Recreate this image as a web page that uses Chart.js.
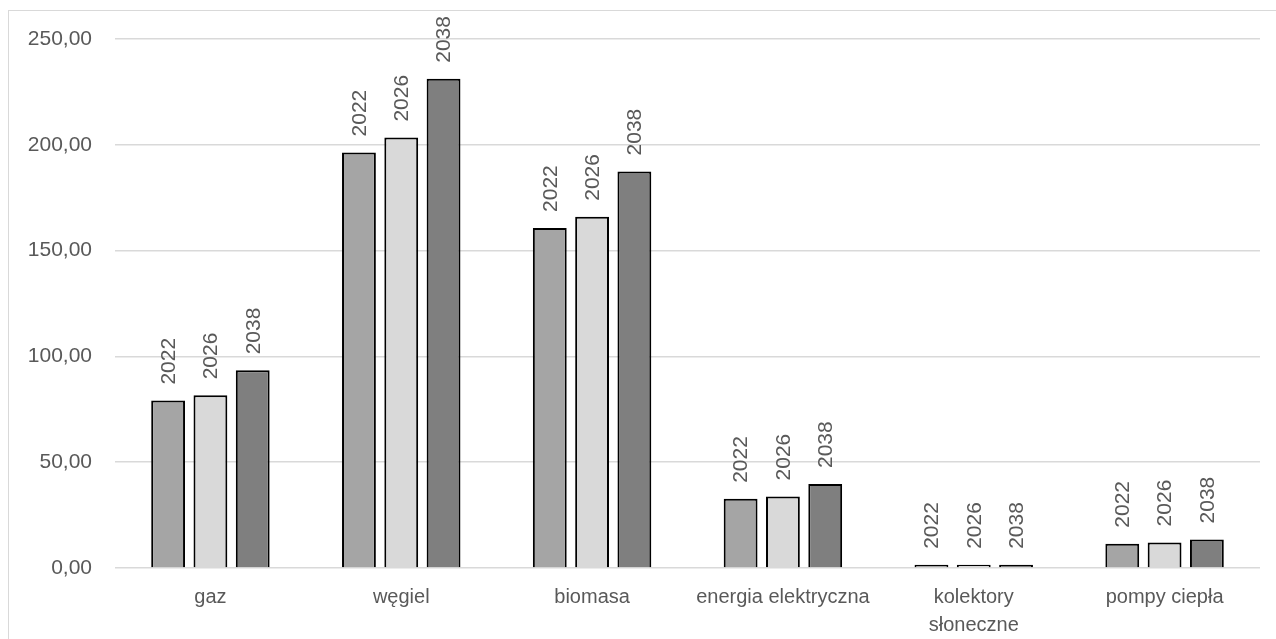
<!DOCTYPE html>
<html>
<head>
<meta charset="utf-8">
<script src="https://cdn.jsdelivr.net/npm/chart.js@4"></script>
<style>
    body { margin: 0; background: #fff; }
    .chart-box { width: 1276px; height: 639px; position: relative; }
</style>
</head>
<body>
<div class="chart-box"><canvas id="myChart"></canvas></div>
<script>
const categories = ['gaz', 'węgiel', 'biomasa', 'energia elektryczna', ['kolektory', 'słoneczne'], 'pompy ciepła'];
const years = ['2022', '2026', '2038'];
const values2022 = [79.1, 196.4, 160.7, 32.7, 1.5, 11.5];
const values2026 = [81.6, 203.4, 166.0, 33.8, 1.5, 12.1];
const values2038 = [93.4, 231.2, 187.4, 39.7, 1.5, 13.5];
const yTicks = [0, 50, 100, 150, 200, 250];

const textColor = '#595959';
const fontName = "'Liberation Sans', Arial, sans-serif";

// frame round the chart (right and bottom edges run off the page)
const framePlugin = {
    id: 'frame',
    beforeDraw(chart) {
        let c = chart.ctx;
        c.save();
        c.strokeStyle = '#d9d9d9';
        c.lineWidth = 1;
        c.strokeRect(8.5, 10.5, 1400, 800);
        c.restore();
    }
};

// year written upright above each bar
const yearLabels = {
    id: 'yearLabels',
    afterDatasetsDraw(chart) {
        let c = chart.ctx;
        c.save();
        c.font = `21px ${fontName}`;
        c.fillStyle = textColor;
        c.textAlign = 'left';
        c.textBaseline = 'middle';
        chart.data.datasets.forEach((ds, i) => {
            chart.getDatasetMeta(i).data.forEach(bar => {
                c.save();
                c.translate(bar.x + 1, bar.y - 16);
                c.rotate(-Math.PI / 2);
                c.fillText(ds.label, 0, 0);
                c.restore();
            });
        });
        c.restore();
    }
};

function makeSet(label, data, color) {
    return {
        label: label,
        data: data,
        backgroundColor: color,
        borderColor: '#000',
        borderWidth: 2,
        barPercentage: 0.8,
        categoryPercentage: 0.665
    };
}

new Chart(document.getElementById('myChart'), {
    type: 'bar',
    data: {
        labels: categories,
        datasets: [
            makeSet(years[0], values2022, '#a5a5a5'),
            makeSet(years[1], values2026, '#d9d9d9'),
            makeSet(years[2], values2038, '#7f7f7f')
        ]
    },
    options: {
        responsive: true,
        maintainAspectRatio: false,
        animation: false,
        layout: { padding: { top: 39, right: 16, left: 0, bottom: 0 } },
        plugins: {
            legend: { display: false },
            tooltip: { enabled: false }
        },
        scales: {
            x: {
                grid: { display: false },
                border: { display: false },
                ticks: {
                    color: textColor,
                    font: { family: fontName, size: 20, lineHeight: 1.425 },
                    padding: 7,
                    maxRotation: 0,
                    autoSkip: false
                },
                afterFit(scale) { scale.height = 71; }
            },
            y: {
                min: 0,
                max: 250,
                afterBuildTicks(scale) { scale.ticks = yTicks.map(v => ({ value: v })); },
                grid: { color: '#d9d9d9', lineWidth: 1.5, drawTicks: false },
                border: { display: false },
                ticks: {
                    color: textColor,
                    font: { family: fontName, size: 21 },
                    padding: 23,
                    callback: v => v.toFixed(2).replace('.', ',')
                },
                afterFit(scale) { scale.width = 115; }
            }
        }
    },
    plugins: [framePlugin, yearLabels]
});
</script>
</body>
</html>
